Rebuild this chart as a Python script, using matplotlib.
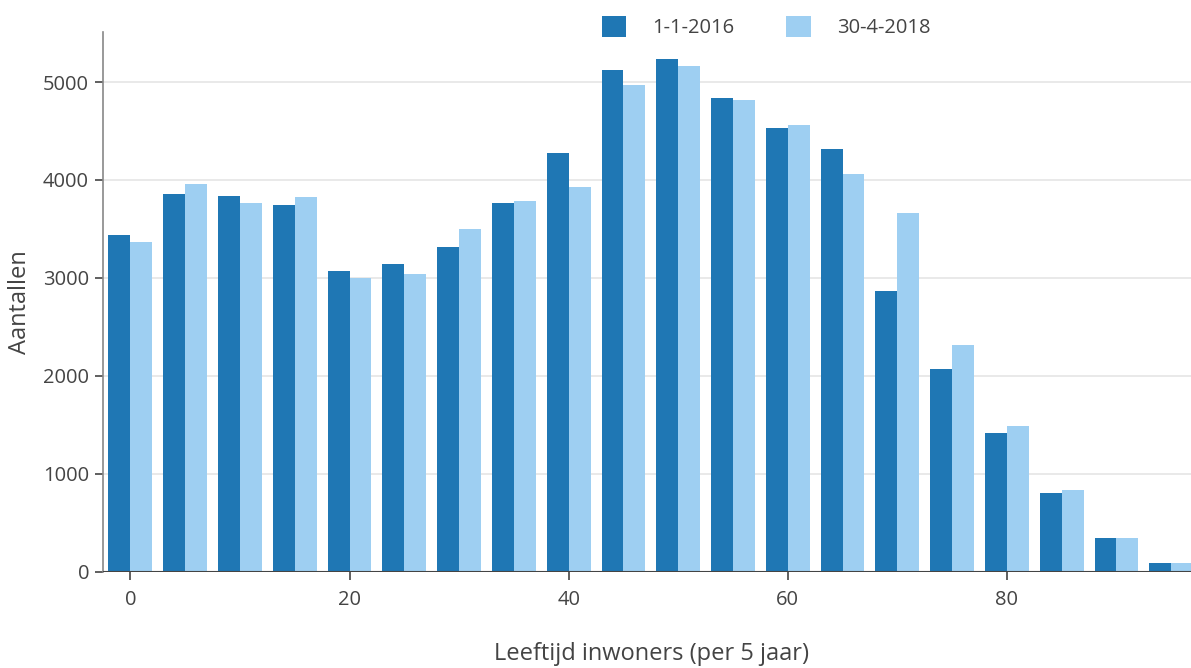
import matplotlib
matplotlib.use("Agg")
import matplotlib.pyplot as plt
import numpy as np

ages = [0, 5, 10, 15, 20, 25, 30, 35, 40, 45, 50, 55, 60, 65, 70, 75, 80, 85, 90, 95]
series_2016 = [3440, 3855, 3834, 3742, 3067, 3139, 3313, 3763, 4274, 5122, 5235, 4837, 4530, 4315, 2865, 2068, 1415, 802, 342, 87]
series_2018 = [3370, 3957, 3763, 3824, 2996, 3037, 3497, 3783, 3926, 4969, 5163, 4816, 4561, 4060, 3662, 2314, 1486, 832, 342, 87]
labels = ["1-1-2016", "30-4-2018"]
colors = ["#1f77b4", "#9ecff2"]

plt.rcParams['font.family'] = ['Open Sans', 'DejaVu Sans']
W, H = 1191, 668
fig = plt.figure(figsize=(W/100, H/100), dpi=100)
ax = fig.add_axes([103/W, (H-571.5)/H, (W-103)/W, (571.5-32)/H])

x = np.array(ages, dtype=float)
bw = 2.0
ax.bar(x - bw/2, series_2016, width=bw, color=colors[0], label=labels[0], zorder=3)
ax.bar(x + bw/2, series_2018, width=bw, color=colors[1], label=labels[1], zorder=3)

ax.set_xlim(-2.5, 96.8)
ax.set_ylim(0, 5511)
ax.set_yticks([0, 1000, 2000, 3000, 4000, 5000])
ax.set_xticks([0, 20, 40, 60, 80])
ax.grid(axis='y', color='#e5e5e5', linewidth=1.2, zorder=0)
ax.axhline(0, color='#444444', linewidth=1.5, zorder=4)

for s in ['top', 'right']:
    ax.spines[s].set_visible(False)
ax.spines['bottom'].set_visible(False)
ax.spines['left'].set_color('#888888')
ax.spines['left'].set_linewidth(1.2)

ax.tick_params(axis='both', colors='#444444', labelsize=14.5, length=6, width=1.2, direction='out')
ax.tick_params(axis='y', pad=4)
ax.tick_params(axis='x', pad=7)
for lab in ax.get_xticklabels() + ax.get_yticklabels():
    lab.set_color('#444444')

fig.text(20/W, 1 - 302/H, "Aantallen", fontsize=17, color='#444444', ha='center', va='center', rotation=90)
fig.text(652/W, 1 - 654/H, "Leeftijd inwoners (per 5 jaar)", fontsize=17, color='#444444', ha='center', va='center')

leg = fig.legend(loc='center', bbox_to_anchor=(766/W, 1 - 27/H), ncol=2, frameon=False,
                 fontsize=14.5, handlelength=1.2, handleheight=1.2, columnspacing=2.6, handletextpad=1.3)
for t in leg.get_texts():
    t.set_color('#444444')

fig.savefig("out.png", dpi=100)
